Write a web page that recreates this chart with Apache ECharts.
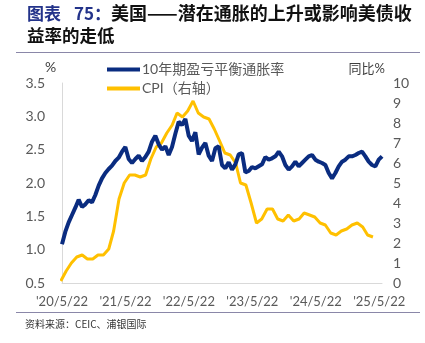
<!DOCTYPE html>
<html>
<head>
<meta charset="utf-8">
<script src="https://cdn.jsdelivr.net/npm/echarts@6/dist/echarts.min.js"></script>
<style>html,body{margin:0;padding:0;background:#fff;}#c{width:425px;height:343px;}</style>
</head>
<body>
<div id="c"></div>
<script>
// 10-year breakeven inflation (%), sampled every ~19 days from 2020-05-22
var beStepDays = 19.18;
var beValues = [1.08,1.27,1.41,1.52,1.63,1.75,1.64,1.68,1.74,1.71,
  1.82,1.96,2.07,2.15,2.21,2.26,2.33,2.38,2.47,2.54,
  2.36,2.30,2.36,2.41,2.33,2.39,2.47,2.62,2.71,2.58,
  2.50,2.55,2.42,2.54,2.74,2.92,2.87,2.96,2.71,2.63,
  2.76,2.43,2.53,2.60,2.41,2.33,2.52,2.55,2.27,2.22,
  2.31,2.20,2.28,2.43,2.45,2.16,2.18,2.24,2.22,2.25,
  2.28,2.39,2.35,2.37,2.40,2.47,2.40,2.27,2.20,2.25,
  2.32,2.25,2.30,2.35,2.40,2.42,2.35,2.32,2.30,2.27,
  2.15,2.07,2.15,2.25,2.32,2.35,2.40,2.40,2.42,2.45,
  2.47,2.40,2.32,2.27,2.25,2.35,2.40];
// CPI YoY (%), monthly
var cpiMonths = ['2020-05','2020-06','2020-07','2020-08','2020-09','2020-10','2020-11','2020-12',
  '2021-01','2021-02','2021-03','2021-04','2021-05','2021-06','2021-07','2021-08','2021-09','2021-10','2021-11','2021-12',
  '2022-01','2022-02','2022-03','2022-04','2022-05','2022-06','2022-07','2022-08','2022-09','2022-10','2022-11','2022-12',
  '2023-01','2023-02','2023-03','2023-04','2023-05','2023-06','2023-07','2023-08','2023-09','2023-10','2023-11','2023-12',
  '2024-01','2024-02','2024-03','2024-04','2024-05','2024-06','2024-07','2024-08','2024-09','2024-10','2024-11','2024-12',
  '2025-01','2025-02','2025-03','2025-04'];
var cpiValues = [0.1,0.6,1.0,1.3,1.4,1.2,1.2,1.4,
  1.4,1.7,2.6,4.2,5.0,5.4,5.4,5.3,5.4,6.2,6.8,7.0,
  7.5,7.9,8.5,8.3,8.6,9.1,8.5,8.3,8.2,7.7,7.1,6.5,
  6.4,6.0,5.0,4.9,4.0,3.0,3.2,3.7,3.7,3.2,3.1,3.4,
  3.1,3.2,3.5,3.4,3.3,3.0,2.9,2.5,2.4,2.6,2.7,2.9,
  3.0,2.8,2.4,2.3];
var xTickLabels = ["'20/5/22","'21/5/22","'22/5/22","'23/5/22","'24/5/22","'25/5/22"];
var leftTicks = [0.5, 3.5, 0.5];   // min, max, interval
var rightTicks = [0, 10, 1];

var origin = Date.UTC(2020, 4, 22);
function dayOf(y, m, d) { return (Date.UTC(y, m - 1, d) - origin) / 86400000; }

var beData = beValues.map(function (v, i) { return [i * beStepDays, v]; });
var cpiData = cpiMonths.map(function (s, i) {
  var p = s.split('-');
  return [dayOf(+p[0], +p[1], 15), cpiValues[i]];
});

var FONT = 'Lato, "Noto Sans CJK SC", sans-serif';
var CJK = '"Noto Sans CJK SC", sans-serif';
var GRAY = '#595959';
var chart = echarts.init(document.getElementById('c'), null, {renderer: 'canvas'});
chart.setOption({
  animation: false,
  backgroundColor: '#fff',
  title: {
    left: 27, top: 3, padding: 0,
    text: '{a|图表}{s|}{a|75：}{b|美国——潜在通胀的上升或影响美债收}\n{c|益率的走低}',
    textStyle: {
      fontFamily: CJK,
      rich: {
        a: {fontSize: 17, fontWeight: 'bold', color: '#23338a', lineHeight: 21, fontFamily: CJK},
        s: {width: 13, lineHeight: 21},
        b: {fontSize: 18, fontWeight: 'bold', color: '#111', lineHeight: 21, fontFamily: CJK},
        c: {fontSize: 17.5, fontWeight: 'bold', color: '#111', lineHeight: 22, fontFamily: CJK}
      }
    }
  },
  graphic: [
    {type: 'line', shape: {x1: 16, y1: 52.5, x2: 420, y2: 52.5}, style: {stroke: '#8a87a8', lineWidth: 1.2}},
    {type: 'line', shape: {x1: 16, y1: 312.5, x2: 420, y2: 312.5}, style: {stroke: '#8a87a8', lineWidth: 1.2}},
    {type: 'text', left: 25, top: 319, style: {text: '资料来源：CEIC、浦银国际', fill: '#333', font: '10px ' + CJK}},
    {type: 'text', left: 45, top: 60, style: {text: '%', fill: '#404040', font: '14px ' + FONT}},
    {type: 'text', right: 40, top: 62, style: {text: '同比%', fill: '#404040', font: '13px ' + FONT}}
  ],
  legend: {
    orient: 'vertical', left: 107, top: 60, padding: 0,
    itemWidth: 33, itemHeight: 4, itemGap: 0,
    icon: 'rect',
    textStyle: {color: GRAY, fontSize: 14, fontFamily: FONT, lineHeight: 19, padding: [0, 0, 0, -3]},
    data: ['10年期盈亏平衡通胀率', 'CPI（右轴）']
  },
  grid: {left: 62, top: 83, width: 320, height: 200, containLabel: false},
  xAxis: {
    type: 'value', min: 0, max: 1841, interval: 365,
    splitLine: {show: false},
    axisTick: {show: false},
    axisLine: {show: true, lineStyle: {color: '#d9d9d9', width: 1}},
    axisLabel: {
      color: GRAY, fontSize: 13, fontFamily: FONT, margin: 12, showMaxLabel: true,
      formatter: function (v) { var k = Math.round(v / 365); return Math.abs(v - k * 365) < 1 ? (xTickLabels[k] || '') : ''; }
    }
  },
  yAxis: [
    {
      type: 'value', min: leftTicks[0], max: leftTicks[1], interval: leftTicks[2],
      splitLine: {show: false}, axisTick: {show: false},
      axisLine: {show: true, lineStyle: {color: '#d9d9d9'}},
      axisLabel: {color: GRAY, fontSize: 14, fontFamily: FONT, margin: 17, formatter: function (v) { return v.toFixed(1); }}
    },
    {
      type: 'value', min: rightTicks[0], max: rightTicks[1], interval: rightTicks[2], position: 'right',
      splitLine: {show: false}, axisTick: {show: false},
      axisLine: {show: false},
      axisLabel: {color: GRAY, fontSize: 14, fontFamily: FONT, margin: 11}
    }
  ],
  series: [
    {
      name: '10年期盈亏平衡通胀率', type: 'line', yAxisIndex: 0, data: beData,
      showSymbol: false, symbol: 'none', itemStyle: {color: '#0a2c80'},
      lineStyle: {color: '#0a2c80', width: 4}, z: 3
    },
    {
      name: 'CPI（右轴）', type: 'line', yAxisIndex: 1, data: cpiData,
      showSymbol: false, symbol: 'none', itemStyle: {color: '#ffc000'},
      lineStyle: {color: '#ffc000', width: 3}, z: 2
    }
  ]
});
</script>
</body>
</html>
